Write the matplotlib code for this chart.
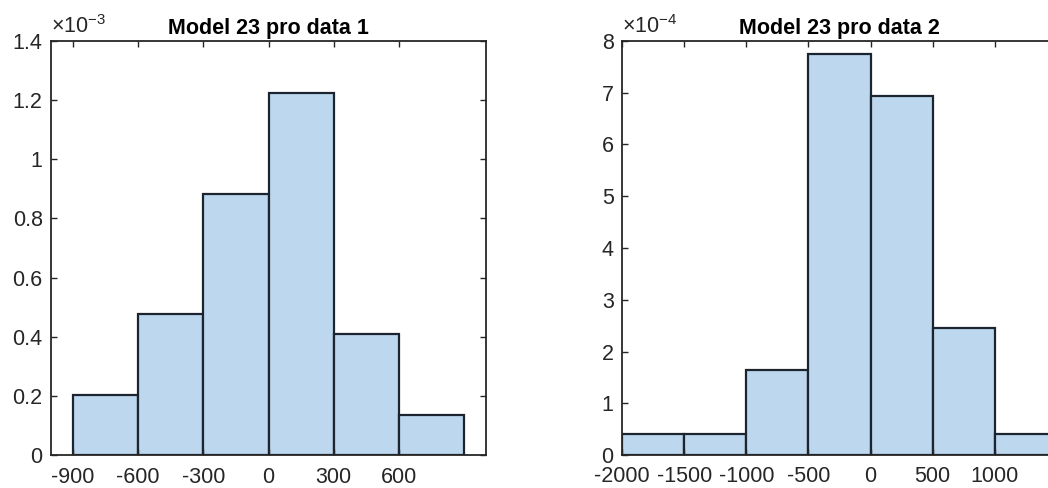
import numpy as np
import matplotlib
matplotlib.use("Agg")
import matplotlib.pyplot as plt
from matplotlib.ticker import FuncFormatter

plt.rcParams['font.family'] = ['Liberation Sans', 'DejaVu Sans']
plt.rcParams['mathtext.fontset'] = 'custom'
plt.rcParams['mathtext.rm'] = 'Liberation Sans'
plt.rcParams['mathtext.it'] = 'Liberation Sans'
plt.rcParams['axes.unicode_minus'] = False

# histogram 1 : bin edges and pdf values (x1e-3)
edges1 = [-900, -600, -300, 0, 300, 600, 900]
pdf1 = [0.204, 0.476, 0.884, 1.224, 0.408, 0.136]
xticks1 = [-900, -600, -300, 0, 300, 600]

# histogram 2 : bin edges and pdf values (x1e-4)
edges2 = [-2000, -1500, -1000, -500, 0, 500, 1000, 1500]
pdf2 = [0.408, 0.408, 1.633, 7.755, 6.939, 2.449, 0.408]
xticks2 = [-2000, -1500, -1000, -500, 0, 500, 1000]

face = '#bdd7ee'
edge = '#1c2430'
axcol = '#262626'


def draw_hist(ax, edges, vals, scale, xlim, ylim, xticks, yticks, title, exp, xpad):
    edges = np.asarray(edges, dtype=float)
    vals = np.asarray(vals) * scale
    ax.bar(edges[:-1], vals, width=np.diff(edges), align='edge',
           color=face, edgecolor=edge, linewidth=1.6)
    ax.set_xlim(*xlim)
    ax.set_ylim(0, ylim * scale)
    ax.set_xticks(xticks)
    ax.set_yticks(np.asarray(yticks) * scale)
    ax.yaxis.set_major_formatter(FuncFormatter(lambda v, p: '%g' % round(v / scale, 6)))
    ax.tick_params(direction='in', length=4, width=1.0, colors=axcol,
                   labelsize=15.5, top=True, right=True, pad=6)
    ax.tick_params(axis='x', pad=xpad)
    for s in ax.spines.values():
        s.set_color(axcol)
        s.set_linewidth(1.3)
    ax.set_title(title, fontsize=15.5, fontweight='bold', pad=5)
    ax.text(0.0, 1.008, r'$\times10^{%d}$' % exp, transform=ax.transAxes,
            fontsize=15.5, color=axcol, ha='left', va='bottom')


fig = plt.figure(figsize=(10.48, 4.88), dpi=100)
ax1 = fig.add_axes([51 / 1048, 33 / 488, 435 / 1048, 414 / 488])
ax2 = fig.add_axes([622 / 1048, 33 / 488, 435 / 1048, 414 / 488])

draw_hist(ax1, edges1, pdf1, 1e-3, (-1000, 1000), 1.4,
          xticks1, [0, 0.2, 0.4, 0.6, 0.8, 1.0, 1.2, 1.4],
          'Model 23 pro data 1', -3, 8.5)
draw_hist(ax2, edges2, pdf2, 1e-4, (-2000, 1500), 8,
          xticks2, list(range(0, 9)),
          'Model 23 pro data 2', -4, 8)

fig.savefig('out.png', dpi=100)
